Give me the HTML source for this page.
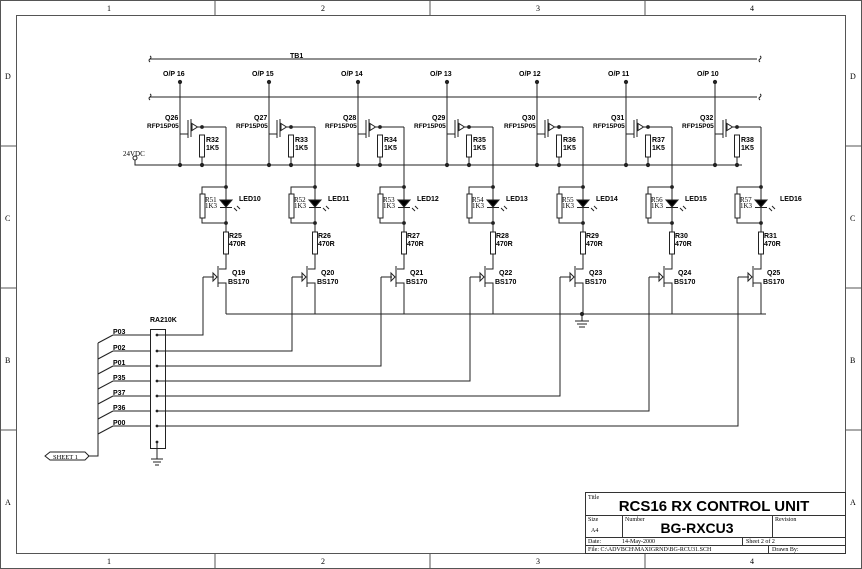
<!DOCTYPE html>
<html><head><meta charset="utf-8"><style>
html,body{margin:0;padding:0;background:#fff}
svg{display:block}
text{font-family:"Liberation Sans",Arial,sans-serif;font-weight:bold;fill:#000}
.s{font-family:"Liberation Serif",serif;font-weight:normal}
</style></head><body>
<svg width="862" height="569" viewBox="0 0 862 569" xmlns="http://www.w3.org/2000/svg">
<defs>
<g id="st" stroke="#222" stroke-width="1" fill="none">
  <line x1="180" y1="82" x2="180" y2="165"/>
  <circle cx="180" cy="82" r="1.6" fill="#222"/>
  <line x1="180" y1="134" x2="188" y2="134"/>
  <line x1="188" y1="120" x2="188" y2="138"/>
  <line x1="191" y1="119" x2="191" y2="137"/>
  <polygon points="192,123.5 197.5,127 192,130.5"/>
  <line x1="197.5" y1="127" x2="226" y2="127"/>
  <circle cx="202" cy="127" r="1.4" fill="#222"/>
  <rect x="199.5" y="135" width="5" height="22"/>
  <line x1="202" y1="157" x2="202" y2="165"/>
  <circle cx="202" cy="165" r="1.6" fill="#222"/>
  <circle cx="180" cy="165" r="1.6" fill="#222"/>
  <line x1="226" y1="127" x2="226" y2="232"/>
  <polyline points="226,187 202,187 202,223 226,223"/>
  <circle cx="226" cy="187" r="1.4" fill="#222"/>
  <circle cx="226" cy="223" r="1.4" fill="#222"/>
  <rect x="200" y="194" width="5" height="24" fill="#fff"/>
  <polygon points="220,200 232,200 226,207" fill="#000"/>
  <line x1="220" y1="207.5" x2="232" y2="207.5"/>
  <line x1="234" y1="208" x2="237" y2="211"/>
  <line x1="237" y1="206" x2="240" y2="209"/>
  <rect x="223.5" y="232" width="5" height="22"/>
  <polyline points="226,254 226,269 219,269"/>
  <line x1="218" y1="266" x2="218" y2="287"/>
  <polyline points="218,283 226,283 226,314"/>
  <polygon points="213,273 217,277 213,281"/>
  <line x1="203" y1="277" x2="214" y2="277"/>
</g>
</defs>
<g fill="none" stroke="#555" stroke-width="1">
  <rect x="0.5" y="0.5" width="861" height="568"/>
  <rect x="16.5" y="15.5" width="829" height="538"/>
  <line x1="215" y1="0" x2="215" y2="15"/><line x1="430" y1="0" x2="430" y2="15"/><line x1="645" y1="0" x2="645" y2="15"/>
  <line x1="215" y1="553" x2="215" y2="569"/><line x1="430" y1="553" x2="430" y2="569"/><line x1="645" y1="553" x2="645" y2="569"/>
  <line x1="0" y1="146" x2="16" y2="146"/><line x1="0" y1="288" x2="16" y2="288"/><line x1="0" y1="430" x2="16" y2="430"/>
  <line x1="846" y1="146" x2="862" y2="146"/><line x1="846" y1="288" x2="862" y2="288"/><line x1="846" y1="430" x2="862" y2="430"/>
</g>
<g class="s" font-size="8">
<text class="s" x="107" y="11">1</text><text class="s" x="321" y="11">2</text><text class="s" x="536" y="11">3</text><text class="s" x="750" y="11">4</text>
<text class="s" x="107" y="564">1</text><text class="s" x="321" y="564">2</text><text class="s" x="536" y="564">3</text><text class="s" x="750" y="564">4</text>
<text class="s" x="5" y="79" font-weight="bold">D</text><text class="s" x="5" y="221" font-weight="bold">C</text><text class="s" x="5" y="363" font-weight="bold">B</text><text class="s" x="5" y="505" font-weight="bold">A</text>
<text class="s" x="850" y="79" font-weight="bold">D</text><text class="s" x="850" y="221" font-weight="bold">C</text><text class="s" x="850" y="363" font-weight="bold">B</text><text class="s" x="850" y="505" font-weight="bold">A</text>
</g>
<g stroke="#222" stroke-width="1" fill="none">
  <line x1="150" y1="59" x2="757" y2="59"/>
  <line x1="150" y1="97" x2="757" y2="97"/>
  <path d="M150,56 q2,1 0,3 q-2,1 0,3"/><path d="M760,56 q2,1 0,3 q-2,1 0,3"/>
  <path d="M150,94 q2,1 0,3 q-2,1 0,3"/><path d="M760,94 q2,1 0,3 q-2,1 0,3"/>
  <polyline points="135,160 135,165 742,165"/>
  <circle cx="135" cy="158" r="2"/>
  <line x1="226" y1="314" x2="766" y2="314"/>
  <circle cx="582" cy="314" r="1.6" fill="#222"/>
  <line x1="582" y1="314" x2="582" y2="321"/>
  <line x1="575" y1="321" x2="589" y2="321"/><line x1="577" y1="324" x2="587" y2="324"/><line x1="579" y1="327" x2="585" y2="327"/>
</g>
<use href="#st"/>
<use href="#st" transform="translate(89,0)"/>
<use href="#st" transform="translate(178,0)"/>
<use href="#st" transform="translate(267,0)"/>
<use href="#st" transform="translate(357,0)"/>
<use href="#st" transform="translate(446,0)"/>
<use href="#st" transform="translate(535,0)"/>
<g stroke="#222" stroke-width="1" fill="none">
  <polyline points="203,277 203,335 157,335"/>
  <polyline points="292,277 292,351 157,351"/>
  <polyline points="381,277 381,366 157,366"/>
  <polyline points="470,277 470,381 157,381"/>
  <polyline points="560,277 560,396 157,396"/>
  <polyline points="649,277 649,411 157,411"/>
  <polyline points="738,277 738,426 157,426"/>
  <rect x="150.5" y="329.5" width="15" height="119"/>
  <line x1="157" y1="442" x2="157" y2="459"/>
  <line x1="151" y1="459" x2="163" y2="459"/><line x1="153" y1="462" x2="161" y2="462"/><line x1="155" y1="465" x2="159" y2="465"/>
  <line x1="113" y1="335" x2="150" y2="335"/><line x1="113" y1="351" x2="150" y2="351"/><line x1="113" y1="366" x2="150" y2="366"/>
  <line x1="113" y1="381" x2="150" y2="381"/><line x1="113" y1="396" x2="150" y2="396"/><line x1="113" y1="411" x2="150" y2="411"/><line x1="113" y1="426" x2="150" y2="426"/>
  <line x1="113" y1="335" x2="98" y2="343"/><line x1="113" y1="351" x2="98" y2="359"/><line x1="113" y1="366" x2="98" y2="374"/>
  <line x1="113" y1="381" x2="98" y2="389"/><line x1="113" y1="396" x2="98" y2="404"/><line x1="113" y1="411" x2="98" y2="419"/><line x1="113" y1="426" x2="98" y2="434"/>
  <polyline points="98,343 98,456 88,456"/>
  <polygon points="45,456 50,452 85,452 89,456 85,460 50,460"/>
</g>
<g fill="#222">
  <circle cx="157" cy="335" r="1.4"/><circle cx="157" cy="351" r="1.4"/><circle cx="157" cy="366" r="1.4"/><circle cx="157" cy="381" r="1.4"/>
  <circle cx="157" cy="396" r="1.4"/><circle cx="157" cy="411" r="1.4"/><circle cx="157" cy="426" r="1.4"/><circle cx="157" cy="442" r="1.4"/>
</g>
<g font-size="7">
<text x="290" y="58">TB1</text>
<text x="163" y="76">O/P 16</text><text x="252" y="76">O/P 15</text><text x="341" y="76">O/P 14</text><text x="430" y="76">O/P 13</text><text x="519" y="76">O/P 12</text><text x="608" y="76">O/P 11</text><text x="697" y="76">O/P 10</text>
<text x="165" y="120">Q26</text><text x="254" y="120">Q27</text><text x="343" y="120">Q28</text><text x="432" y="120">Q29</text><text x="522" y="120">Q30</text><text x="611" y="120">Q31</text><text x="700" y="120">Q32</text>
<g font-size="6.5">
<text x="147" y="128">RFP15P05</text><text x="236" y="128">RFP15P05</text><text x="325" y="128">RFP15P05</text><text x="414" y="128">RFP15P05</text><text x="504" y="128">RFP15P05</text><text x="593" y="128">RFP15P05</text><text x="682" y="128">RFP15P05</text>
</g>
<text x="206" y="142">R32</text><text x="206" y="150">1K5</text>
<text x="295" y="142">R33</text><text x="295" y="150">1K5</text>
<text x="384" y="142">R34</text><text x="384" y="150">1K5</text>
<text x="473" y="142">R35</text><text x="473" y="150">1K5</text>
<text x="563" y="142">R36</text><text x="563" y="150">1K5</text>
<text x="652" y="142">R37</text><text x="652" y="150">1K5</text>
<text x="741" y="142">R38</text><text x="741" y="150">1K5</text>
<text class="s" x="123" y="156" font-size="7">24VDC</text>
<g class="s" font-size="7">
<text class="s" x="205" y="202">R51</text><text class="s" x="205" y="208">1K3</text>
<text class="s" x="294" y="202">R52</text><text class="s" x="294" y="208">1K3</text>
<text class="s" x="383" y="202">R53</text><text class="s" x="383" y="208">1K3</text>
<text class="s" x="472" y="202">R54</text><text class="s" x="472" y="208">1K3</text>
<text class="s" x="562" y="202">R55</text><text class="s" x="562" y="208">1K3</text>
<text class="s" x="651" y="202">R56</text><text class="s" x="651" y="208">1K3</text>
<text class="s" x="740" y="202">R57</text><text class="s" x="740" y="208">1K3</text>
</g>
<text x="239" y="201">LED10</text><text x="328" y="201">LED11</text><text x="417" y="201">LED12</text><text x="506" y="201">LED13</text><text x="596" y="201">LED14</text><text x="685" y="201">LED15</text><text x="780" y="201">LED16</text>
<text x="229" y="238">R25</text><text x="229" y="246">470R</text>
<text x="318" y="238">R26</text><text x="318" y="246">470R</text>
<text x="407" y="238">R27</text><text x="407" y="246">470R</text>
<text x="496" y="238">R28</text><text x="496" y="246">470R</text>
<text x="586" y="238">R29</text><text x="586" y="246">470R</text>
<text x="675" y="238">R30</text><text x="675" y="246">470R</text>
<text x="764" y="238">R31</text><text x="764" y="246">470R</text>
<text x="232" y="275">Q19</text><text x="228" y="284">BS170</text>
<text x="321" y="275">Q20</text><text x="317" y="284">BS170</text>
<text x="410" y="275">Q21</text><text x="406" y="284">BS170</text>
<text x="499" y="275">Q22</text><text x="495" y="284">BS170</text>
<text x="589" y="275">Q23</text><text x="585" y="284">BS170</text>
<text x="678" y="275">Q24</text><text x="674" y="284">BS170</text>
<text x="767" y="275">Q25</text><text x="763" y="284">BS170</text>
<text x="150" y="322">RA210K</text>
<text x="113" y="334">P03</text><text x="113" y="350">P02</text><text x="113" y="365">P01</text><text x="113" y="380">P35</text><text x="113" y="395">P37</text><text x="113" y="410">P36</text><text x="113" y="425">P00</text>
<text class="s" x="53" y="459" font-size="6.5">SHEET 1</text>
</g>
<g stroke="#333" stroke-width="1" fill="none">
  <rect x="585.5" y="492.5" width="260" height="61"/>
  <line x1="585" y1="515.5" x2="846" y2="515.5"/>
  <line x1="585" y1="537.5" x2="846" y2="537.5"/>
  <line x1="585" y1="545.5" x2="846" y2="545.5"/>
  <line x1="622.5" y1="515" x2="622.5" y2="537"/>
  <line x1="772.5" y1="515" x2="772.5" y2="537"/>
  <line x1="742.5" y1="537" x2="742.5" y2="545"/>
  <line x1="768.5" y1="545" x2="768.5" y2="553"/>
</g>
<g class="s" font-size="6">
<text class="s" x="588" y="499">Title</text>
<text class="s" x="588" y="521">Size</text>
<text class="s" x="591" y="532">A4</text>
<text class="s" x="625" y="521">Number</text>
<text class="s" x="775" y="521">Revision</text>
<text class="s" x="588" y="543">Date:</text>
<text class="s" x="622" y="543">14-May-2000</text>
<text class="s" x="746" y="543">Sheet 2 of 2</text>
<text class="s" x="588" y="551">File: C:\ADVBCH\MAXIGRND\BG-RCU31.SCH</text>
<text class="s" x="772" y="551">Drawn By:</text>
</g>
<text x="714" y="511" font-size="15" text-anchor="middle">RCS16 RX CONTROL UNIT</text>
<text x="697" y="533" font-size="14" text-anchor="middle">BG-RXCU3</text>
</svg>
</body></html>
